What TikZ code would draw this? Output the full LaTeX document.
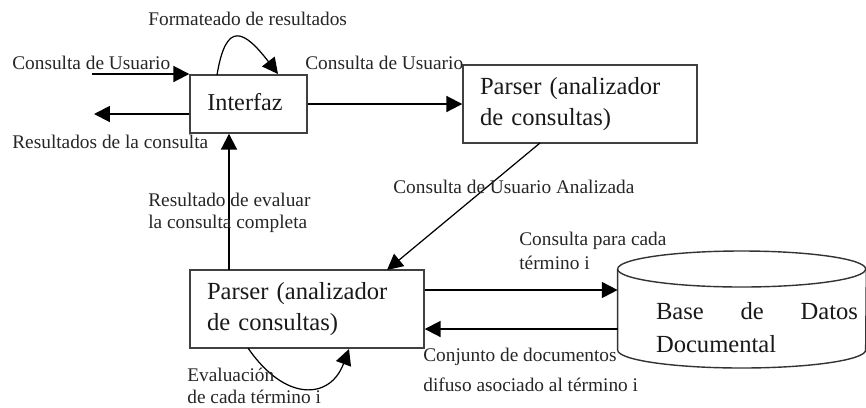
\documentclass[tikz,border=0pt]{standalone}
\usepackage{fontspec}
\setmainfont{Liberation Serif}
\usepackage{tikz}
\usetikzlibrary{arrows.meta}
\tikzset{
  box/.style={shape=rectangle,draw=black!75,line width=0.8pt},
  flow/.style={line width=1.1pt,-{Triangle[length=9pt,width=9pt]}},
  thin flow/.style={line width=0.7pt,-{Triangle[length=9pt,width=9pt]}},
  small/.style={font=\fontsize{11}{13}\selectfont,inner sep=0pt,anchor=west,text=black!85},
  big/.style={font=\fontsize{14}{17.5}\selectfont,text width=200*0.02cm,inner xsep=17*0.02cm,inner ysep=0pt,minimum height=78*0.02cm,text=black!90}
}

\begin{document}
\begin{tikzpicture}[x=0.02cm,y=-0.02cm]
        \useasboundingbox (0,0) rectangle (866,407);

        \node (interfaz) at (248.5,104) [box,inner sep=0pt,minimum width=117*0.02cm,minimum height=58*0.02cm,font=\fontsize{13.8}{16}\selectfont,text=black!90] {\raisebox{2pt}{Interfaz\hspace{4pt}}};
        \node (parser1) at (580,104) [box,big] {Parser (analizador\\de consultas)};
        \node (parser2) at (307,309) [box,big] {Parser (analizador\\de consultas)};
        \node (db) at (742,310) [shape=rectangle,minimum width=248*0.02cm,minimum height=117*0.02cm,inner sep=0pt] {};
        \node (dbtext) at (757,328) [font=\fontsize{14}{18.8}\selectfont,text width=202*0.02cm,inner sep=0pt,text=black!90] {Base\hfill de\hfill Datos\\Documental};

        % cylinder
        \draw[line width=0.8pt,draw=black!80] (db.west |- 0,269) arc[start angle=180,end angle=-180,x radius=124,y radius=18];
        \draw[line width=0.8pt,draw=black!80] (db.west |- 0,269) -- (db.west |- 0,350) arc[start angle=180,end angle=0,x radius=124,y radius=18] -- (db.east |- 0,269);

        \coordinate (in1) at (92,74);
        \coordinate (out1) at (94,114);
        \coordinate (up1) at (229,270);
        \coordinate (diag1) at (540,143);
        \coordinate (diag2) at (387,270);
        \coordinate (loop1a) at (217,75);
        \coordinate (loop1b) at (278,74);
        \coordinate (loop2a) at (248,348);
        \coordinate (loop2b) at (349,349);

        \draw[flow] (in1) -- (in1 -| interfaz.west);
        \draw[flow] (interfaz.west |- out1) -- (out1);
        \draw[flow] (interfaz.east) -- (interfaz.east -| parser1.west);
        \draw[flow] (up1) -- (up1 |- interfaz.south);
        \draw[thin flow] (diag1) -- (diag2);
        \draw[flow] (parser2.east |- 0,290) -- (db.west |- 0,290);
        \draw[flow] (db.west |- 0,329) -- (parser2.east |- 0,329);
        \draw[thin flow] (loop1a) .. controls (226,20) and (244,30) .. (loop1b);
        \draw[thin flow] (loop2a) .. controls (285,402) and (330,400) .. (loop2b);

        \node (t1) at (148,19) [small] {Formateado de resultados};
        \node (t2) at (12,63) [small] {Consulta de Usuario};
        \node (t3) at (305,63) [small] {Consulta de Usuario};
        \node (t4) at (12,142) [small] {Resultados de la consulta};
        \node (t5) at (148,200) [small] {Resultado de evaluar};
        \node (t6) at (148,224) [small] {la consulta completa};
        \node (t7) at (393,187) [small] {Consulta de Usuario Analizada};
        \node (t8) at (519,241) [small] {Consulta para cada};
        \node (t9) at (519,263) [small] {término i};
        \node (t10) at (423,357) [small] {Conjunto de documentos};
        \node (t11) at (423,385) [small] {difuso asociado al término i};
        \node (t12) at (187,375) [small] {Evaluación};
        \node (t13) at (187,396.5) [small] {de cada término i};
    \end{tikzpicture}
\end{document}
